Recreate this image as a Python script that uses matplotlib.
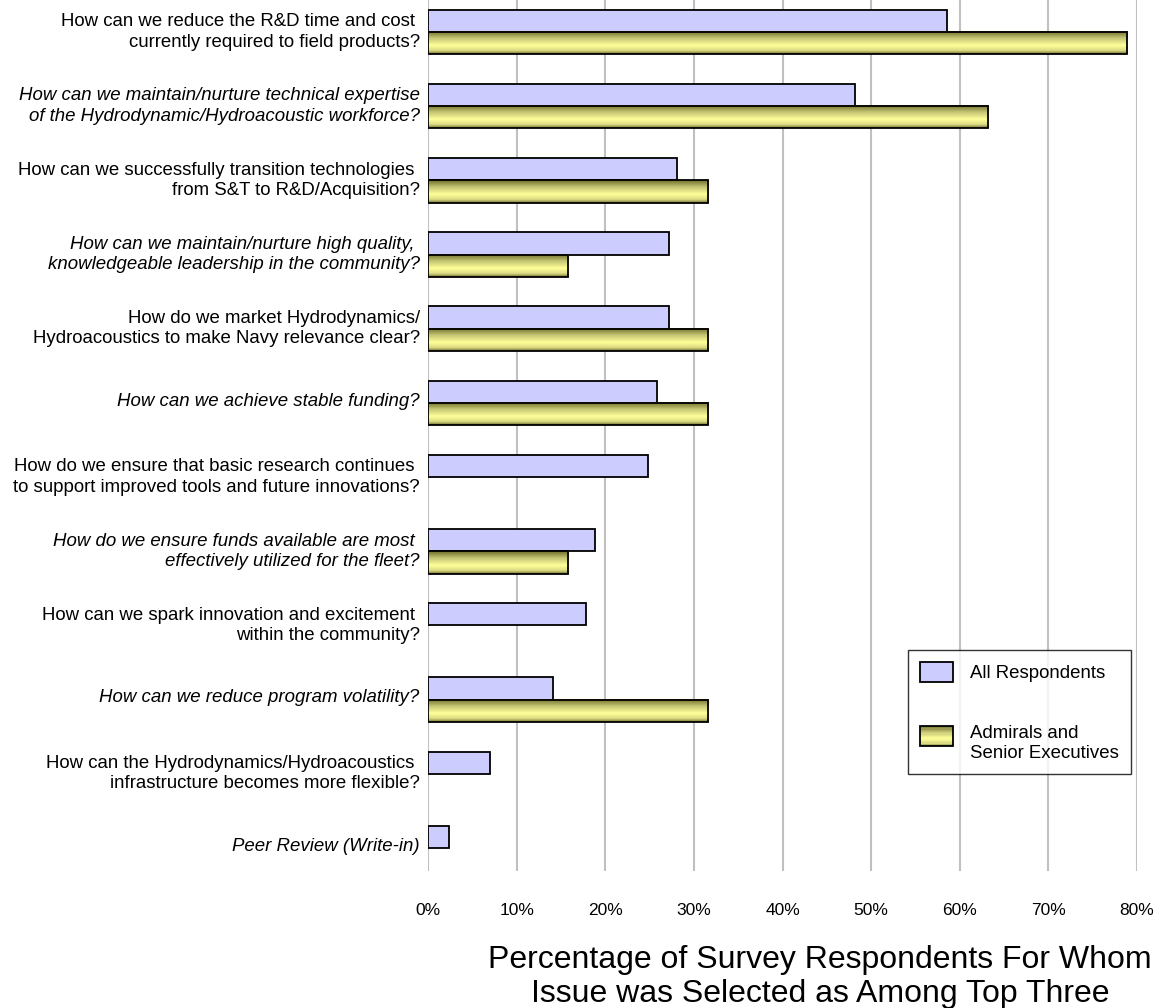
import numpy as np
import matplotlib
matplotlib.use("Agg")
import matplotlib.pyplot as plt
from matplotlib.colors import LinearSegmentedColormap
from matplotlib.legend_handler import HandlerBase
from matplotlib.patches import Rectangle

plt.rcParams["font.family"] = ["Liberation Sans", "DejaVu Sans"]

questions = [
    "How can we reduce the R&D time and cost \ncurrently required to field products?",
    "How can we maintain/nurture technical expertise\nof the Hydrodynamic/Hydroacoustic workforce?",
    "How can we successfully transition technologies \nfrom S&T to R&D/Acquisition?",
    "How can we maintain/nurture high quality, \nknowledgeable leadership in the community?",
    "How do we market Hydrodynamics/\nHydroacoustics to make Navy relevance clear?",
    "How can we achieve stable funding?",
    "How do we ensure that basic research continues \nto support improved tools and future innovations?",
    "How do we ensure funds available are most \neffectively utilized for the fleet?",
    "How can we spark innovation and excitement \nwithin the community?",
    "How can we reduce program volatility?",
    "How can the Hydrodynamics/Hydroacoustics \ninfrastructure becomes more flexible?",
    "Peer Review (Write-in)",
]
all_respondents = [58.6, 48.2, 28.1, 27.2, 27.2, 25.8, 24.8, 18.8, 17.8, 14.1, 7.0, 2.4]
admirals_ses = [78.9, 63.2, 31.6, 15.8, 31.6, 31.6, 0, 15.8, 0, 31.6, 0, 0]
xticks = [0, 10, 20, 30, 40, 50, 60, 70, 80]

PURPLE = "#ccccff"
gold = LinearSegmentedColormap.from_list(
    "gold", [(0.0, "#6e6e2c"), (0.3, "#c4c474"), (0.62, "#ffff99"),
             (0.85, "#dcdc84"), (1.0, "#727232")])
ramp = np.linspace(0, 1, 64).reshape(-1, 1)


class GradientHandler(HandlerBase):
    def create_artists(self, legend, orig, xd, yd, w, h, fontsize, trans):
        n = 16
        out = []
        for k in range(n):
            c = gold(1 - (k + 0.5) / n)
            out.append(Rectangle((xd, yd + h * k / n), w, h / n, facecolor=c,
                                 edgecolor="none", transform=trans))
        out.append(Rectangle((xd, yd), w, h, facecolor="none", edgecolor="black",
                             lw=1.3, transform=trans))
        return out


W, H = 1166, 1008
fig = plt.figure(figsize=(W / 100, H / 100), dpi=100)
ax = fig.add_axes([428 / W, 1 - 871 / H, (1137 - 428) / W, 871 / H])

y = np.arange(len(questions))
bh = 0.30
ax.barh(y - bh / 2, all_respondents, height=bh, color=PURPLE, edgecolor="black",
        lw=1.3, zorder=3)
for yi, v in zip(y, admirals_ses):
    if v <= 0:
        continue
    top = yi
    ax.imshow(ramp, cmap=gold, aspect="auto", interpolation="bilinear",
              extent=(0, v, top + bh, top), zorder=3)
    ax.add_patch(Rectangle((0, top), v, bh, facecolor="none", edgecolor="black",
                           lw=1.3, zorder=4))

ax.set_xlim(0, 80)
ax.set_ylim(11 + 23 / 74.2, -32 / 74.2)
ax.set_xticks(xticks, [f"{t}%" for t in xticks], fontsize=12.5)
ax.set_yticks(y - 0.05, questions, fontsize=13.4)
for i, lab in enumerate(ax.get_yticklabels()):
    lab.set_linespacing(1.25)
    if i % 2 == 1:
        lab.set_fontstyle("italic")
ax.tick_params(axis="both", length=0)
ax.tick_params(axis="x", pad=23)
ax.tick_params(axis="y", pad=6)
ax.grid(axis="x", color="#c0c0c0", lw=1.5, zorder=0)
ax.set_axisbelow(True)
for s in ax.spines.values():
    s.set_visible(False)

fig.text(820 / W, 1 - 977 / H,
         "Percentage of Survey Respondents For Whom\nIssue was Selected as Among Top Three",
         ha="center", va="center", fontsize=23, linespacing=1.2)

h1 = Rectangle((0, 0), 1, 1, facecolor=PURPLE, edgecolor="black", lw=1.3)
h2 = Rectangle((0, 0), 1, 1)
leg = fig.legend([h1, h2], ["All Respondents", "Admirals and\nSenior Executives"],
                 handler_map={h2: GradientHandler()},
                 loc="upper right", bbox_to_anchor=(1131 / W, 1 - 650 / H),
                 fontsize=13.4, frameon=True, fancybox=False, edgecolor="black",
                 handlelength=1.8, handleheight=1.3, labelspacing=2.3,
                 borderpad=0.65, handletextpad=0.9, borderaxespad=0)
leg.get_frame().set_linewidth(1.0)

fig.savefig("out.png", dpi=100)
